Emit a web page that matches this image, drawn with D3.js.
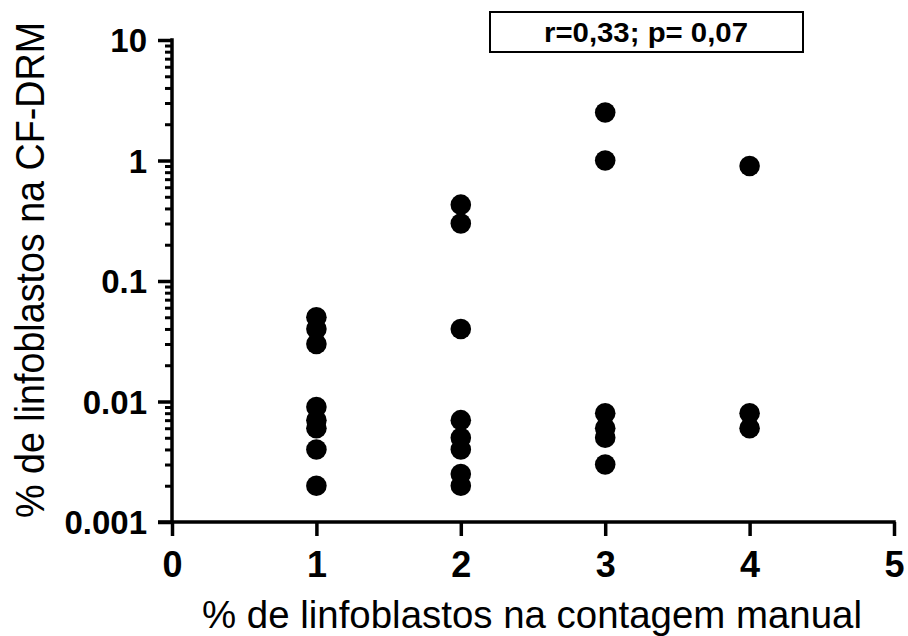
<!DOCTYPE html>
<html>
<head>
<meta charset="utf-8">
<script src="https://cdn.jsdelivr.net/npm/d3@7"></script>
<style>
  html, body { margin: 0; padding: 0; background: #fff; }
  svg { display: block; }
  text { font-family: "Liberation Sans", Arial, sans-serif; fill: #000; }
</style>
</head>
<body>
<svg id="chart" width="908" height="636"></svg>
<script>
// ---- data ----
const xTickValues = [0, 1, 2, 3, 4, 5];
const yTickValues = [0.001, 0.01, 0.1, 1, 10];
const yTickLabels = ["0.001", "0.01", "0.1", "1", "10"];
const manualCounts = [1, 2, 3, 4];
const drmAt1 = [0.05, 0.04, 0.03, 0.009, 0.007, 0.006, 0.004, 0.002];
const drmAt2 = [0.43, 0.3, 0.04, 0.007, 0.005, 0.004, 0.0025, 0.002];
const drmAt3 = [2.5, 1, 0.008, 0.006, 0.005, 0.003];
const drmAt4 = [0.9, 0.008, 0.006];
const xTitle = "% de linfoblastos na contagem manual";
const yTitle = "% de linfoblastos na CF-DRM";
const statText = "r=0,33; p= 0,07";

const groups = [drmAt1, drmAt2, drmAt3, drmAt4];
const points = [];
groups.forEach((vals, i) => vals.forEach(v => points.push({ x: manualCounts[i], y: v })));

// ---- layout ----
const svg = d3.select("#chart");
const x = d3.scaleLinear().domain([0, 5]).range([172, 894]);
const y = d3.scaleLog().domain([0.001, 10]).range([522, 40]);
const lw = 3.5;

// minor y ticks
const minorTicks = [];
for (let e = -3; e < 1; e++) {
  for (let m = 2; m <= 9; m++) minorTicks.push(m * Math.pow(10, e));
}

const gMinor = svg.append("g").attr("transform", `translate(${x(0)},0)`)
  .call(d3.axisLeft(y).tickValues(minorTicks).tickSize(7).tickSizeOuter(0).tickFormat(""));
gMinor.select(".domain").remove();
gMinor.selectAll("line").attr("stroke", "#000").attr("stroke-width", lw - 0.5);

const gy = svg.append("g").attr("transform", `translate(${x(0)},0)`)
  .call(d3.axisLeft(y).tickValues(yTickValues).tickSize(14).tickSizeOuter(0).tickPadding(11)
    .tickFormat((d, i) => yTickLabels[i]));
gy.select(".domain").remove();
gy.selectAll("line").attr("stroke", "#000").attr("stroke-width", lw);
gy.selectAll("text").style("font-size", "33px").style("font-weight", "bold")
  .attr("font-family", null).attr("dy", "0.36em");

// y axis line
svg.append("line")
  .attr("x1", x(0)).attr("x2", x(0))
  .attr("y1", y(10) - lw / 2).attr("y2", y(0.001))
  .attr("stroke", "#000").attr("stroke-width", lw);

const gx = svg.append("g").attr("transform", `translate(0,${y(0.001)})`)
  .call(d3.axisBottom(x).tickValues(xTickValues).tickSize(14).tickSizeOuter(0).tickPadding(15)
    .tickFormat(d3.format("d")));
gx.select(".domain").remove();
gx.selectAll("line").attr("stroke", "#000").attr("stroke-width", lw);
gx.selectAll("text").style("font-size", "36px").style("font-weight", "bold").attr("font-family", null);

// x axis line (extends left like the major tick)
svg.append("line")
  .attr("x1", x(0) - 14).attr("x2", x(5) + lw / 2)
  .attr("y1", y(0.001)).attr("y2", y(0.001))
  .attr("stroke", "#000").attr("stroke-width", lw);

// points
svg.append("g").selectAll("circle").data(points).join("circle")
  .attr("cx", d => x(d.x)).attr("cy", d => y(d.y)).attr("r", 10.3)
  .attr("fill", "#000");

// axis titles
svg.append("text")
  .attr("x", 532).attr("y", 628)
  .attr("text-anchor", "middle")
  .attr("textLength", 660).attr("lengthAdjust", "spacingAndGlyphs")
  .style("font-size", "38px")
  .text(xTitle);

svg.append("text")
  .attr("transform", "translate(44,270) rotate(-90)")
  .attr("text-anchor", "middle")
  .attr("textLength", 496).attr("lengthAdjust", "spacingAndGlyphs")
  .style("font-size", "40px")
  .text(yTitle);

// stats box
svg.append("rect")
  .attr("x", 490).attr("y", 12).attr("width", 313).attr("height", 40)
  .attr("fill", "#fff").attr("stroke", "#000").attr("stroke-width", 2);
svg.append("text")
  .attr("x", 646).attr("y", 42)
  .attr("text-anchor", "middle")
  .attr("textLength", 204).attr("lengthAdjust", "spacingAndGlyphs")
  .style("font-size", "27px").style("font-weight", "bold")
  .text(statText);
</script>
</body>
</html>
